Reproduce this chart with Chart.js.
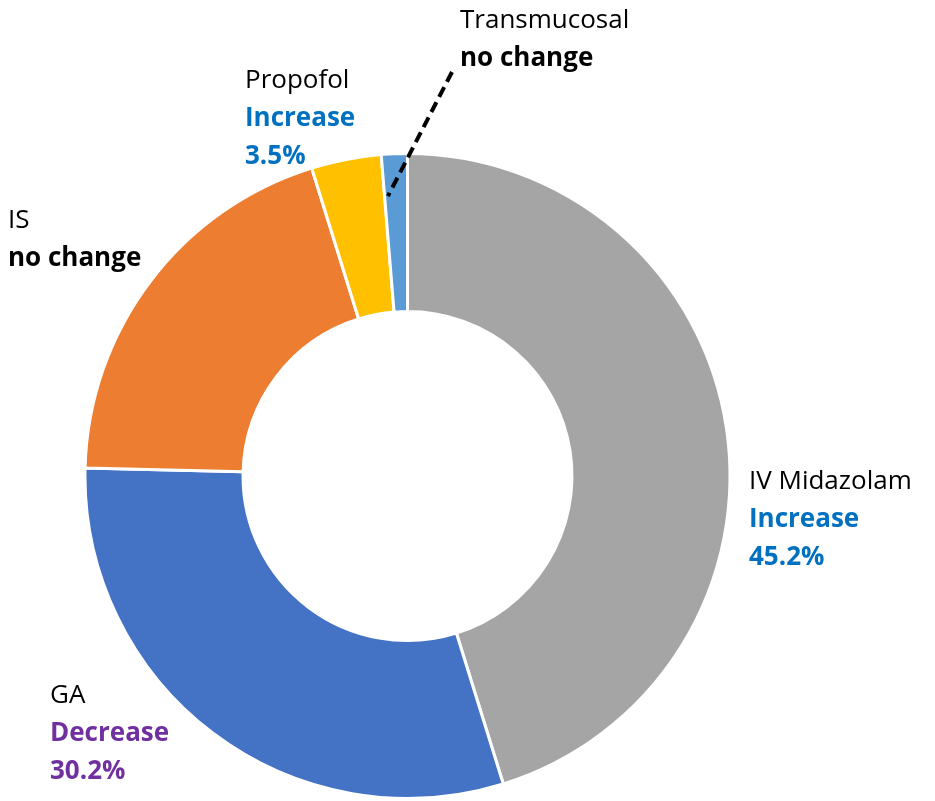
<!DOCTYPE html>
<html>
<head>
<meta charset="utf-8">
<script src="https://cdn.jsdelivr.net/npm/chart.js@4.4.0/dist/chart.umd.min.js"></script>
<style>
  html, body { margin: 0; padding: 0; background: #fff; }
  #wrap { width: 935px; height: 801px; }
</style>
</head>
<body>
<div id="wrap"><canvas id="myCanvas"></canvas></div>
<script>
// slices, clockwise from 12 o'clock
const methods = ["IV Midazolam", "GA", "IS", "Propofol", "Transmucosal"];
const shares = [45.2, 30.2, 19.8, 3.5, 1.3];
const changes = ["Increase", "Decrease", "no change", "Increase", "no change"];
const sliceColors = ["#A5A5A5", "#4472C4", "#ED7D31", "#FFC000", "#5B9BD5"];

const changeColor = {
  "Increase": "#0070C0",
  "Decrease": "#7030A0",
  "no change": "#000000",
};

// where each label block sits (left x, first baseline y)
const labelPos = [
  [749, 489],
  [50, 703],
  [8, 228],
  [245, 88],
  [460, 28],
];

const FONT = "'Open Sans', 'Noto Sans', sans-serif";
const LINE_H = 38;

const labelsPlugin = {
  id: "sliceLabels",
  afterDraw(chart) {
    const ctx = chart.ctx;
    const arcs = chart.getDatasetMeta(0).data;
    ctx.save();
    ctx.textAlign = "left";
    ctx.textBaseline = "alphabetic";

    // dashed leader for the thin Transmucosal slice
    const tm = arcs[4];
    const ang = tm.startAngle + 0.1 * (tm.endAngle - tm.startAngle);
    const r = tm.outerRadius * 0.87;
    ctx.beginPath();
    ctx.setLineDash([11, 6]);
    ctx.lineWidth = 4;
    ctx.strokeStyle = "#000";
    ctx.moveTo(labelPos[4][0] - 8, labelPos[4][1] + 44);
    ctx.lineTo(tm.x + Math.cos(ang) * r + 1, tm.y + Math.sin(ang) * r);
    ctx.stroke();
    ctx.setLineDash([]);

    methods.forEach((name, i) => {
      const [x, y] = labelPos[i];
      ctx.font = "26px " + FONT;
      ctx.fillStyle = "#000";
      ctx.fillText(name, x, y);
      ctx.font = "bold 26px " + FONT;
      ctx.fillStyle = changeColor[changes[i]];
      ctx.fillText(changes[i], x, y + LINE_H);
      if (changes[i] !== "no change") {
        ctx.fillText(shares[i].toFixed(1) + "%", x, y + LINE_H * 2);
      }
    });
    ctx.restore();
  },
};

const chart = new Chart(document.getElementById("myCanvas"), {
  type: "doughnut",
  data: {
    labels: methods,
    datasets: [
      {
        data: shares,
        backgroundColor: sliceColors,
        borderColor: "#ffffff",
        borderWidth: 3,
      },
    ],
  },
  options: {
    responsive: true,
    maintainAspectRatio: false,
    animation: false,
    cutout: "51%",
    layout: {
      padding: { left: 83.5, right: 203.5, top: 152, bottom: 1 },
    },
    plugins: {
      legend: { display: false },
      tooltip: { enabled: false },
    },
  },
  plugins: [labelsPlugin],
});
</script>
</body>
</html>
